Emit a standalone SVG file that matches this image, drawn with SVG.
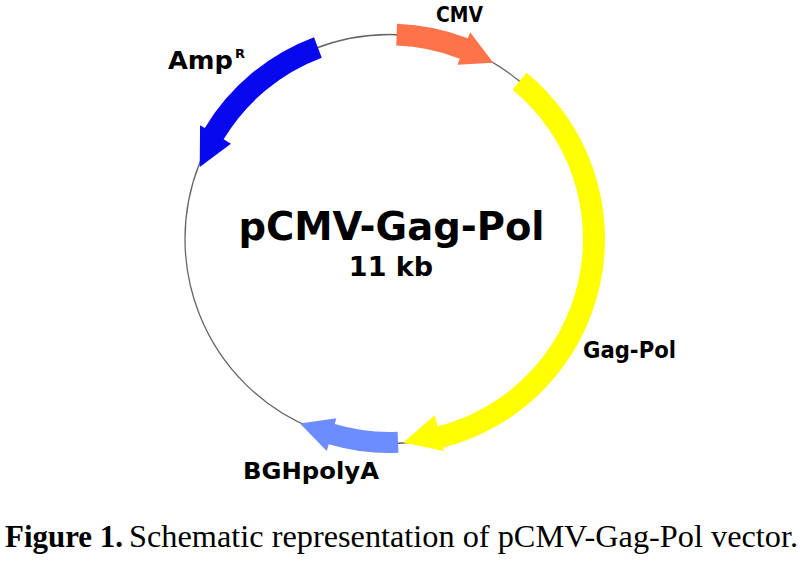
<svg xmlns="http://www.w3.org/2000/svg" width="802" height="561" viewBox="0 0 802 561">
<style>
.lbl{font-family:"DejaVu Sans","Liberation Sans",sans-serif;font-weight:bold;font-size:23px;fill:#000}
.cap{font-family:"Liberation Serif","Times New Roman",serif;font-size:31px;fill:#000}
</style>
<rect width="802" height="561" fill="#fff"/>
<g id="backbone">
<circle cx="389.5" cy="239" r="204.5" fill="none" stroke="#666" stroke-width="1.3"/>
</g>
<g id="connectors"/>
<g id="cmv">
<path d="M397.02,23.63 A215.5,215.5 0 0 1 467.79,38.22 L470.15,32.16 L493.29,62.80 L457.44,64.77 L459.80,58.72 A193.5,193.5 0 0 0 396.25,45.62 Z" fill="#FF734B"/>
<text class="lbl" x="436" y="22" textLength="47" lengthAdjust="spacingAndGlyphs" style="font-size:22px">CMV</text>
</g>
<g id="gagpol">
<path d="M526.58,72.72 A215.5,215.5 0 0 1 443.09,447.73 L443.97,451.12 L403.37,442.53 L434.76,415.29 L437.62,426.42 A193.5,193.5 0 0 0 512.59,89.70 Z" fill="#FFFF00"/>
<text class="lbl" x="583" y="358" textLength="93" lengthAdjust="spacingAndGlyphs">Gag-Pol</text>
</g>
<g id="ampr">
<path d="M314.03,37.14 A215.5,215.5 0 0 0 204.77,128.02 L200.06,125.18 L199.74,166.91 L230.92,143.72 L223.63,139.35 A193.5,193.5 0 0 1 321.74,57.74 Z" fill="#0808EE"/>
<text class="lbl" x="168" y="69" textLength="65" lengthAdjust="spacingAndGlyphs" style="font-size:24px">Amp</text>
<text class="lbl" x="235" y="58" style="font-size:13px">R</text>
</g>
<g id="bghpolya">
<path d="M398.46,452.81 A214,214 0 0 1 328.72,444.18 L326.74,450.89 L299.96,423.42 L336.39,418.30 L334.69,424.05 A193,193 0 0 0 397.58,431.83 Z" fill="#6B8DFF"/>
<text class="lbl" x="243" y="479" textLength="136" lengthAdjust="spacingAndGlyphs">BGHpolyA</text>
</g>
<g id="title">
<text x="391.5" y="240" text-anchor="middle" style="font-family:'DejaVu Sans','Liberation Sans',sans-serif;font-weight:bold;font-size:38.5px">pCMV-Gag-Pol</text>
<text x="391" y="276" text-anchor="middle" style="font-family:'DejaVu Sans','Liberation Sans',sans-serif;font-weight:bold;font-size:27px">11 kb</text>
</g>
<g id="caption">
<text class="cap" x="5" y="547" font-weight="bold" textLength="118" lengthAdjust="spacingAndGlyphs">Figure 1.</text>
<text class="cap" x="129" y="547" textLength="669" lengthAdjust="spacingAndGlyphs">Schematic representation of pCMV-Gag-Pol vector.</text>
</g>
</svg>
